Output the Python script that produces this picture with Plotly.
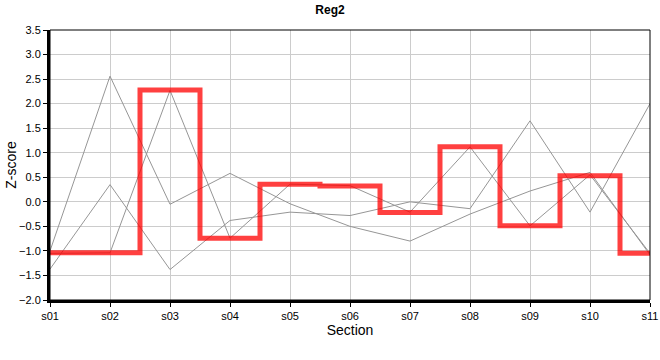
import plotly.graph_objects as go

sections = ["s01", "s02", "s03", "s04", "s05", "s06", "s07", "s08", "s09", "s10", "s11"]
line1 = [-1.00, 2.56, -0.05, 0.58, -0.04, -0.50, -0.80, -0.25, 0.22, 0.60, -1.08]
line2 = [-1.37, 0.35, -1.38, -0.38, -0.21, -0.28, 0.00, -0.14, 1.65, -0.21, 2.00]
line3 = [-1.05, -1.04, 2.27, -0.74, 0.36, 0.33, -0.21, 1.12, -0.49, 0.55, -1.05]
reg2 = [-1.04, -1.04, 2.28, -0.74, 0.36, 0.32, -0.22, 1.12, -0.49, 0.53, -1.05]

FONT = "Liberation Sans Narrow, Arial Narrow, Liberation Sans, Arial, sans-serif"

fig = go.Figure()
for ys in (line1, line2, line3):
    fig.add_trace(go.Scatter(x=sections, y=ys, mode="lines",
                             line=dict(color="rgb(150,150,150)", width=1),
                             showlegend=False, hoverinfo="skip"))
fig.add_trace(go.Scatter(x=sections, y=reg2, mode="lines",
                         line=dict(color="rgba(255,0,0,0.75)", width=5, shape="hvh"),
                         showlegend=False))

fig.update_layout(
    width=660, height=360,
    margin=dict(l=50, r=10, t=30, b=60, autoexpand=False),
    paper_bgcolor="white", plot_bgcolor="white",
    font=dict(family=FONT, size=11, color="black"),
    title=dict(text="<b>Reg2</b>", x=0.5, xanchor="center", y=0.972, yanchor="middle",
               font=dict(family="Liberation Sans, Arial, sans-serif", size=12, color="black")),
    showlegend=False,
)
fig.update_xaxes(
    type="category", range=[0, 10], automargin=False,
    showgrid=True, gridcolor="rgb(204,204,204)", gridwidth=1,
    showline=True, linecolor="black", linewidth=3,
    ticks="outside", ticklen=4, tickcolor="black", tickwidth=1,
    title=dict(text="Section", font=dict(size=14), standoff=3),
    zeroline=False,
)
fig.update_yaxes(
    range=[-2.0, 3.5], dtick=0.5, tick0=0, tickformat=".1f", automargin=False,
    showgrid=True, gridcolor="rgb(204,204,204)", gridwidth=1,
    showline=True, linecolor="black", linewidth=3,
    ticks="outside", ticklen=4, tickcolor="black", tickwidth=1,
    title=dict(text="Z-score", font=dict(size=14), standoff=0),
    zeroline=False,
)
fig.add_shape(type="rect", xref="paper", yref="paper", x0=0, x1=1, y0=0, y1=1,
              line=dict(color="black", width=1), layer="above")

fig.write_html("out.html", config={"displayModeBar": False},
               post_script="document.body.style.margin='0px';")
